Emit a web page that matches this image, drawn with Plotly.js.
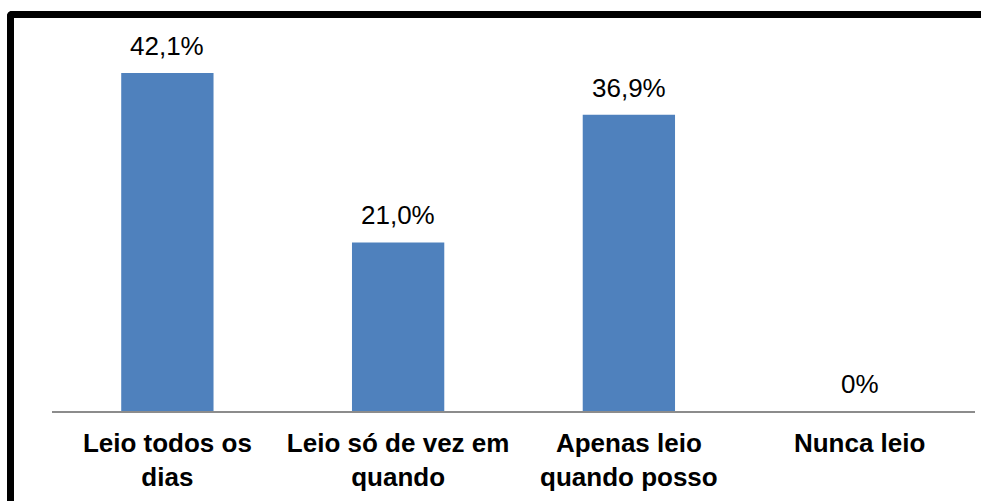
<!DOCTYPE html>
<html>
<head>
<meta charset="utf-8">
<script src="https://cdn.plot.ly/plotly-3.0.1.min.js"></script>
<style>
html,body{margin:0;padding:0;background:#fff;overflow:hidden;}
#chart{position:absolute;left:0;top:0;width:981px;height:501px;}
#frame{position:absolute;left:7px;top:11px;width:990px;height:510px;border-left:7px solid #000;border-top:7px solid #000;border-top-left-radius:5px;pointer-events:none;z-index:10;}
</style>
</head>
<body>
<div id="chart"></div>
<div id="frame"></div>
<script>
const categories = ['Leio todos os<br>dias', 'Leio só de vez em<br>quando', 'Apenas leio<br>quando posso', 'Nunca leio'];
const values = [42.1, 21.0, 36.9, 0];
const valueLabels = ['42,1%', '21,0%', '36,9%', '0%'];

const annotations = categories.map((c, i) => ({
  x: c, y: values[i], xref: 'x', yref: 'y',
  text: valueLabels[i], showarrow: false,
  yanchor: 'bottom', yshift: 10,
  font: {family: 'Liberation Sans, Arial, sans-serif', size: 26, color: '#000'}
}));

Plotly.newPlot('chart', [{
  type: 'bar', x: categories, y: values,
  marker: {color: '#4F81BD'}, hoverinfo: 'none'
}], {
  width: 981, height: 501,
  margin: {l: 52, r: 6, t: 30, b: 90},
  paper_bgcolor: 'rgba(0,0,0,0)', plot_bgcolor: '#fff',
  bargap: 0.6, showlegend: false,
  font: {family: 'Liberation Sans, Arial, sans-serif', color: '#000'},
  xaxis: {
    showline: true, linecolor: '#8c8c8c', linewidth: 1.5,
    ticks: '', showgrid: false, zeroline: false,
    tickfont: {size: 26, color: '#000', weight: 'bold', family: 'Liberation Sans, Arial, sans-serif'},
    ticklabelstandoff: 8
  },
  yaxis: {range: [0, 47.45], visible: false, showgrid: false, zeroline: false},
  annotations: annotations
}, {staticPlot: true});
</script>
</body>
</html>
